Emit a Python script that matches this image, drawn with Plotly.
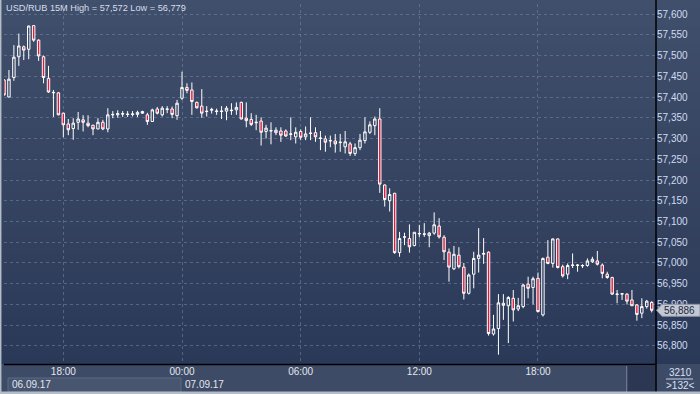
import plotly.graph_objects as go
import pandas as pd

# ---- data (USD/RUB, 15-minute candles) ----
start_time = "2017-09-06 15:00"
n_candles = 132
times = pd.date_range(start_time, periods=n_candles, freq="15min")

open_ = [57.441, 57.400, 57.447, 57.497, 57.521, 57.515, 57.572, 57.537, 57.497, 57.445,
         57.410, 57.410, 57.361, 57.335, 57.324, 57.339, 57.345, 57.337, 57.332, 57.323,
         57.339, 57.323, 57.357, 57.357, 57.360, 57.359, 57.358, 57.358, 57.365, 57.357,
         57.341, 57.371, 57.357, 57.370, 57.371, 57.355, 57.397, 57.423, 57.417, 57.387,
         57.378, 57.366, 57.368, 57.365, 57.365, 57.366, 57.367, 57.369, 57.387, 57.349,
         57.346, 57.338, 57.342, 57.317, 57.318, 57.314, 57.318, 57.318, 57.310, 57.304,
         57.317, 57.304, 57.312, 57.314, 57.300, 57.299, 57.294, 57.294, 57.290, 57.280,
         57.287, 57.264, 57.278, 57.295, 57.315, 57.331, 57.347, 57.188, 57.150, 57.168,
         57.025, 57.062, 57.059, 57.042, 57.070, 57.069, 57.066, 57.072, 57.089, 57.062,
         57.026, 56.986, 57.019, 56.990, 56.927, 56.973, 57.011, 57.021, 57.026, 56.829,
         56.842, 56.903, 56.897, 56.915, 56.889, 56.895, 56.949, 56.941, 56.963, 56.875,
         57.014, 56.999, 57.058, 56.991, 56.973, 56.994, 56.994, 56.993, 56.994, 57.003,
         57.005, 56.995, 56.973, 56.965, 56.924, 56.925, 56.925, 56.911, 56.899, 56.879,
         56.895, 56.905]

high = [57.443, 57.465, 57.525, 57.553, 57.524, 57.572, 57.572, 57.539, 57.500, 57.475,
        57.417, 57.412, 57.362, 57.347, 57.349, 57.364, 57.356, 57.356, 57.333, 57.349,
        57.345, 57.373, 57.366, 57.368, 57.366, 57.366, 57.366, 57.367, 57.367, 57.362,
        57.372, 57.376, 57.378, 57.378, 57.377, 57.393, 57.461, 57.433, 57.435, 57.389,
        57.419, 57.378, 57.374, 57.372, 57.378, 57.378, 57.385, 57.387, 57.389, 57.387,
        57.361, 57.357, 57.351, 57.333, 57.339, 57.327, 57.327, 57.322, 57.351, 57.327,
        57.322, 57.329, 57.351, 57.327, 57.318, 57.307, 57.307, 57.311, 57.311, 57.318,
        57.292, 57.288, 57.311, 57.351, 57.341, 57.353, 57.373, 57.189, 57.180, 57.169,
        57.075, 57.073, 57.093, 57.074, 57.092, 57.096, 57.075, 57.122, 57.108, 57.067,
        57.035, 57.041, 57.038, 57.000, 56.975, 57.027, 57.084, 57.060, 57.028, 56.875,
        56.925, 56.925, 56.920, 56.935, 56.916, 56.950, 56.967, 56.967, 56.977, 57.013,
        57.055, 57.059, 57.059, 56.996, 56.999, 57.023, 56.997, 56.997, 57.011, 57.015,
        57.029, 56.999, 56.979, 56.967, 56.935, 56.927, 56.927, 56.935, 56.901, 56.915,
        56.911, 56.908]

low = [57.403, 57.399, 57.439, 57.475, 57.489, 57.491, 57.533, 57.487, 57.433, 57.410,
       57.352, 57.356, 57.303, 57.308, 57.297, 57.321, 57.317, 57.327, 57.308, 57.322,
       57.320, 57.315, 57.349, 57.350, 57.352, 57.352, 57.353, 57.352, 57.359, 57.333,
       57.340, 57.358, 57.353, 57.361, 57.349, 57.345, 57.393, 57.409, 57.357, 57.372,
       57.350, 57.353, 57.360, 57.357, 57.347, 57.344, 57.357, 57.357, 57.346, 57.327,
       57.330, 57.320, 57.283, 57.300, 57.286, 57.308, 57.292, 57.304, 57.296, 57.288,
       57.296, 57.296, 57.296, 57.292, 57.272, 57.268, 57.279, 57.266, 57.268, 57.264,
       57.258, 57.258, 57.272, 57.288, 57.311, 57.308, 57.169, 57.136, 57.124, 57.022,
       57.015, 57.043, 57.025, 57.040, 57.062, 57.063, 57.038, 57.068, 57.059, 57.007,
       56.955, 56.983, 56.987, 56.912, 56.924, 56.939, 56.977, 56.998, 56.825, 56.825,
       56.779, 56.863, 56.807, 56.859, 56.884, 56.891, 56.915, 56.900, 56.881, 56.871,
       56.997, 56.989, 56.987, 56.965, 56.961, 56.988, 56.979, 56.988, 56.991, 57.000,
       56.994, 56.963, 56.962, 56.923, 56.903, 56.911, 56.900, 56.897, 56.861, 56.867,
       56.890, 56.881]

close = [57.405, 57.443, 57.496, 57.523, 57.513, 57.571, 57.537, 57.499, 57.447, 57.412,
         57.411, 57.357, 57.333, 57.321, 57.337, 57.347, 57.339, 57.331, 57.323, 57.339,
         57.323, 57.357, 57.358, 57.360, 57.359, 57.358, 57.359, 57.363, 57.361, 57.341,
         57.369, 57.361, 57.373, 57.371, 57.358, 57.385, 57.423, 57.416, 57.389, 57.374,
         57.361, 57.365, 57.370, 57.366, 57.366, 57.373, 57.368, 57.375, 57.347, 57.343,
         57.334, 57.339, 57.315, 57.325, 57.319, 57.320, 57.308, 57.306, 57.311, 57.315,
         57.303, 57.311, 57.313, 57.304, 57.301, 57.291, 57.295, 57.287, 57.291, 57.292,
         57.264, 57.278, 57.296, 57.316, 57.333, 57.347, 57.190, 57.153, 57.165, 57.025,
         57.059, 57.063, 57.039, 57.074, 57.071, 57.070, 57.072, 57.092, 57.063, 57.027,
         56.990, 57.021, 56.991, 56.927, 56.971, 57.011, 57.019, 57.023, 56.830, 56.841,
         56.904, 56.898, 56.917, 56.887, 56.897, 56.947, 56.939, 56.962, 56.883, 57.011,
         56.999, 57.058, 56.989, 56.969, 56.994, 56.995, 56.995, 56.994, 57.005, 57.009,
         56.997, 56.975, 56.965, 56.925, 56.925, 56.926, 56.908, 56.897, 56.876, 56.895,
         56.908, 56.886]

symbol = "USD/RUB 15M"
date_labels = ["06.09.17", "07.09.17"]
bars_label = "3210"
count_label = ">132<"

# ---- layout geometry helpers (pixels -> paper) ----
W, H = 700, 394
ML, MR, MT, MB = 4, 44, 4, 30
PW, PH = W - ML - MR, H - MT - MB


def px(x):
    return (x - ML) / PW


def py(y):
    return (H - MB - y) / PH


def fmt(v):
    return f"{v:.3f}".replace(".", ",")


FONT = "Liberation Sans, Arial, sans-serif"
RED = "#de1a3d"

fig = go.Figure()
fig.add_trace(go.Candlestick(
    x=times, open=open_, high=high, low=low, close=close,
    increasing=dict(line=dict(color="white", width=1), fillcolor="rgba(0,0,0,0)"),
    decreasing=dict(line=dict(color="white", width=1), fillcolor=RED),
    whiskerwidth=0, showlegend=False, hoverinfo="skip",
))

shapes = []
# vertical gradient background
top_c = (64, 79, 107)
bot_c = (43, 57, 88)
nb = 40
band = (H - MB) / nb
for i in range(nb):
    t = (i + 0.5) / nb
    c = tuple(round(top_c[k] + (bot_c[k] - top_c[k]) * t) for k in range(3))
    shapes.append(dict(type="rect", xref="paper", yref="paper", layer="below",
                       x0=px(0), x1=px(W), y0=py(i * band), y1=py((i + 1) * band + 0.6),
                       fillcolor=f"rgb{c}", line=dict(width=0)))
# bottom strip
shapes.append(dict(type="rect", xref="paper", yref="paper", layer="below",
                   x0=px(0), x1=px(W), y0=py(H - MB), y1=py(H),
                   fillcolor="#3e4b66", line=dict(width=0)))
# date box for first day
shapes.append(dict(type="rect", xref="paper", yref="paper", layer="above",
                   x0=px(8), x1=px(181), y0=py(378), y1=py(392),
                   fillcolor="#47556f", line=dict(color="#5c6a84", width=1)))
# dark square at bottom right of plot
shapes.append(dict(type="rect", xref="paper", yref="paper", layer="above",
                   x0=px(628), x1=px(655.5), y0=py(366), y1=py(392),
                   fillcolor="#2b3753", line=dict(width=0)))
shapes.append(dict(type="line", xref="paper", yref="paper", layer="above",
                   x0=px(626.5), x1=px(626.5), y0=py(366), y1=py(392),
                   line=dict(color="#6a7690", width=1)))
# right axis black line extended down
shapes.append(dict(type="line", xref="paper", yref="paper", layer="above",
                   x0=px(656), x1=px(656), y0=py(0), y1=py(394),
                   line=dict(color="black", width=1.5)))
# bottom axis line
shapes.append(dict(type="line", xref="paper", yref="paper", layer="above",
                   x0=px(4), x1=px(656), y0=py(364.5), y1=py(364.5),
                   line=dict(color="black", width=1.5)))
# separator under bar count
shapes.append(dict(type="line", xref="paper", yref="paper", layer="above",
                   x0=px(666), x1=px(693), y0=py(379), y1=py(379),
                   line=dict(color="#c8d4ea", width=1)))
# outer frame (left and bottom)
shapes.append(dict(type="line", xref="paper", yref="paper", layer="above",
                   x0=px(0.7), x1=px(0.7), y0=py(0), y1=py(394),
                   line=dict(color="#b4bcc8", width=1.5)))
shapes.append(dict(type="line", xref="paper", yref="paper", layer="above",
                   x0=px(0), x1=px(700), y0=py(392.8), y1=py(392.8),
                   line=dict(color="#b4bcc8", width=2.5)))
# current price marker
last = close[-1]
hh = 6.0 / 415
shapes.append(dict(type="path", xref="paper", yref="y", layer="above",
                   path=(f"M {px(656.5)},{last} L {px(662)},{last + hh} L {px(700)},{last + hh} "
                         f"L {px(700)},{last - hh} L {px(662)},{last - hh} Z"),
                   fillcolor="#c3c8d2", line=dict(color="#8a93a6", width=1)))

annotations = [
    dict(xref="paper", yref="paper", x=px(4), y=py(8.5), xanchor="left", yanchor="middle",
         text=f"{symbol} High = {fmt(max(high))} Low = {fmt(min(low))}", showarrow=False,
         font=dict(family=FONT, size=9.2, color="#d6deec")),
    dict(xref="paper", yref="y", x=px(662), y=last, xanchor="left", yanchor="middle",
         text=fmt(last), showarrow=False, font=dict(family=FONT, size=10, color="#1c2840")),
    dict(xref="paper", yref="paper", x=px(10), y=py(384.5), xanchor="left", yanchor="middle",
         text=date_labels[0], showarrow=False, font=dict(family=FONT, size=10, color="#e2e6ee")),
    dict(xref="paper", yref="paper", x=px(183), y=py(384.5), xanchor="left", yanchor="middle",
         text=date_labels[1], showarrow=False, font=dict(family=FONT, size=10, color="#e2e6ee")),
    dict(xref="paper", yref="paper", x=px(680), y=py(372), xanchor="center", yanchor="middle",
         text=bars_label, showarrow=False, font=dict(family=FONT, size=10, color="#d8e2f4")),
    dict(xref="paper", yref="paper", x=px(680), y=py(385.5), xanchor="center", yanchor="middle",
         text=count_label, showarrow=False, font=dict(family=FONT, size=10, color="#d8e2f4")),
]

grid_c = "rgba(130,150,185,0.45)"
fig.update_layout(
    width=W, height=H,
    margin=dict(l=ML, r=MR, t=MT, b=MB),
    paper_bgcolor="#3e4b66", plot_bgcolor="rgba(0,0,0,0)",
    separators=", ",
    showlegend=False,
    shapes=shapes, annotations=annotations,
    font=dict(family=FONT, size=10),
    xaxis=dict(
        type="date",
        range=[times[0], times[-1] + pd.Timedelta(minutes=13)],
        rangeslider=dict(visible=False),
        tickformat="%H:%M", dtick=6 * 3600 * 1000, tick0="2017-09-06 00:00",
        showgrid=True, gridcolor=grid_c, griddash="3px,3px", gridwidth=1,
        showline=False, zeroline=False, ticks="",
        tickfont=dict(family=FONT, size=10, color="#e2e6ee"),
    ),
    yaxis=dict(
        side="right",
        range=[56.7566, 57.6241],
        dtick=0.05, tick0=56.8, tickformat=".3f",
        showgrid=True, gridcolor=grid_c, griddash="3px,3px", gridwidth=1,
        showline=False, zeroline=False, ticks="",
        tickfont=dict(family=FONT, size=10, color="#cfdcf2"),
    ),
)

fig.write_html("out.html", config={"displayModeBar": False},
               post_script="document.body.style.margin='0';document.body.style.overflow='hidden';")
